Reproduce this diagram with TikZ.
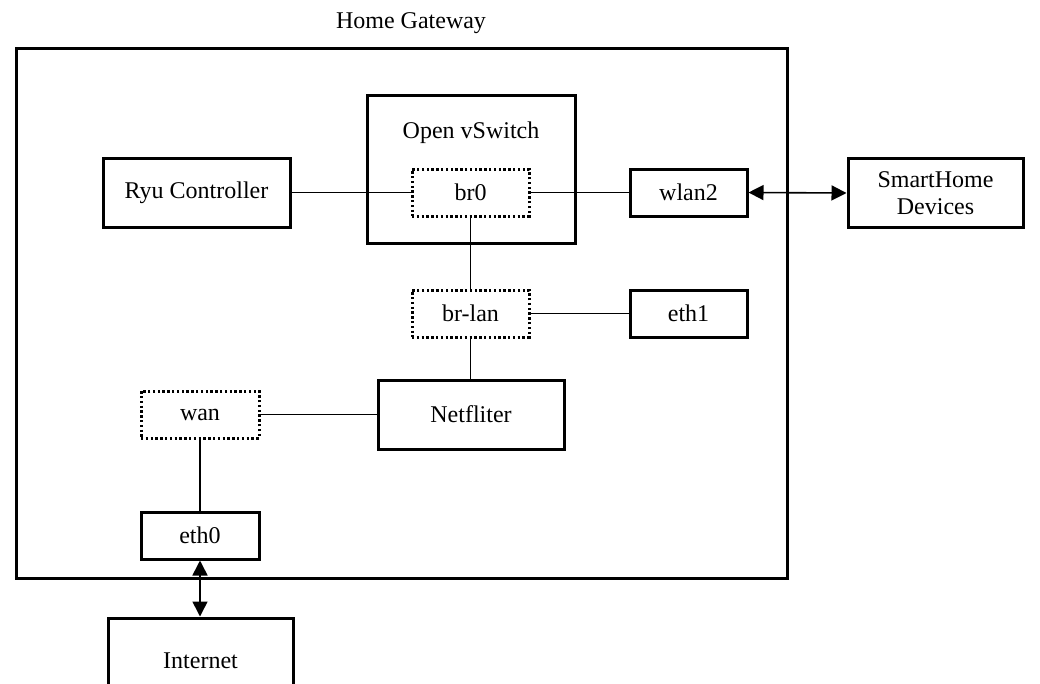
\documentclass[tikz,border=0pt]{standalone}
\usepackage{fontspec}
\setmainfont{Liberation Serif}
\usetikzlibrary{arrows.meta}
\begin{document}
\begin{tikzpicture}[x=1pt,y=-1pt,
  every node/.style={font=\fontsize{24}{28}\selectfont, inner sep=0pt},
  solidbox/.style={draw, line width=3pt, rectangle},
  dotbox/.style={draw, line width=3pt, dash pattern=on 2.4pt off 2.4pt, rectangle},
  conn/.style={line width=1.5pt},
  biarrow/.style={line width=1.6pt, {Triangle[length=15pt,width=15pt]}-{Triangle[length=15pt,width=15pt]}}]
\clip (0,0) rectangle (1040,683);
\fill[white] (0,0) rectangle (1040,683);
% outer gateway
\node[solidbox, minimum width=771pt, minimum height=530pt] (gw) at (401.5,313) {};
\node (gwlabel) at (411,23) {Home Gateway};
% Open vSwitch
\node[solidbox, minimum width=208pt, minimum height=148pt] (ovs) at (471,169) {};
\node (ovslabel) at (471,133) {Open vSwitch};
\node[dotbox, minimum width=117pt, minimum height=47pt] (br0) at (470.5,192.5) {br0};
\node[solidbox, minimum width=187pt, minimum height=69pt] (ryu) at (196.5,192.5) {Ryu Controller};
\node[solidbox, minimum width=117pt, minimum height=47pt] (wlan2) at (688.5,192.5) {wlan2};
\node[solidbox, minimum width=175pt, minimum height=69pt, align=center] (smart) at (935.5,193) {SmartHome\\[-1pt]Devices};
\node[dotbox, minimum width=117pt, minimum height=47pt] (brlan) at (470.5,313.5) {br-lan};
\node[solidbox, minimum width=117pt, minimum height=47pt] (eth1) at (688.5,313.5) {eth1};
\node[solidbox, minimum width=186pt, minimum height=69pt] (nf) at (471,414.5) {Netfliter};
\node[dotbox, minimum width=118pt, minimum height=47pt] (wan) at (200,414.5) {wan};
\node[solidbox, minimum width=118pt, minimum height=47pt] (eth0) at (200,535.5) {eth0};
\node[solidbox, minimum width=185pt, minimum height=120pt] (inet) at (200.5,678) {};
\node (inetlabel) at (200.5,661) {Internet};
% connectors
\draw[conn] (ryu.east) -- (br0.west);
\draw[conn] (br0.east) -- (wlan2.west);
\draw[biarrow] (wlan2.east) -- (smart.west);
\draw[conn] (br0.south) -- (brlan.north);
\draw[conn] (brlan.east) -- (eth1.west);
\draw[conn] (brlan.south) -- (brlan.south |- nf.north);
\draw[conn] (wan.east) -- (nf.west);
\draw[conn] (wan.south) -- (eth0.north);
\draw[biarrow] (eth0.south) -- (eth0.south |- inet.north);
\end{tikzpicture}
\end{document}
